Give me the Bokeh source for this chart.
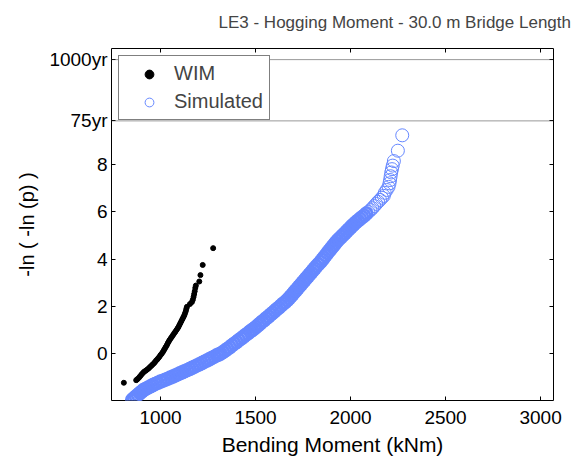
from bokeh.plotting import figure
from bokeh.models import (Range1d, FixedTicker, LinearAxis, Span, Legend, LegendItem,
                          CustomLabelingPolicy)
from bokeh.embed import file_html
from bokeh.resources import INLINE

# ---- data ----
wim_x = [807, 872, 878, 886, 893, 900, 907, 914, 922, 930, 938, 945, 952, 958, 965,
         971, 977, 983, 989, 995, 1001, 1007, 1013, 1018, 1023, 1028, 1033, 1038, 1043,
         1048, 1054, 1060, 1066, 1072, 1078, 1084, 1090, 1095, 1100, 1105, 1110, 1115,
         1120, 1125, 1129, 1133, 1136, 1139, 1155, 1165, 1170, 1174, 1177, 1180, 1183,
         1186, 1204, 1210, 1222, 1277]
wim_y = [-1.23, -1.12, -1.08, -1.02, -0.95, -0.88, -0.82, -0.76, -0.72, -0.67, -0.62,
         -0.56, -0.51, -0.46, -0.41, -0.35, -0.29, -0.24, -0.18, -0.12, -0.05, 0.01,
         0.08, 0.15, 0.22, 0.29, 0.36, 0.44, 0.51, 0.58, 0.65, 0.72, 0.79, 0.86, 0.93,
         1.00, 1.07, 1.14, 1.22, 1.30, 1.38, 1.46, 1.54, 1.62, 1.71, 1.80, 1.90, 1.98,
         2.10, 2.18, 2.28, 2.40, 2.52, 2.64, 2.78, 2.88, 3.05, 3.32, 3.75, 4.46]

sim_x = [851, 861, 871, 881, 891, 901, 912,
         924, 936, 948, 960, 972, 986, 1000,
         1013, 1026, 1039, 1052, 1065, 1078, 1090, 1102, 1115, 1127, 1140,
         1153, 1166, 1179, 1192, 1205, 1218, 1231, 1244, 1257, 1270, 1283, 1296, 1306, 1316,
         1328, 1340, 1352, 1364, 1376, 1388, 1400, 1412, 1424, 1436, 1448, 1460, 1472, 1481, 1491,
         1502, 1513, 1524, 1535, 1546, 1557, 1568, 1579, 1590, 1601, 1612, 1623, 1634, 1645, 1656, 1667,
         1676, 1685, 1694, 1703, 1712, 1721, 1730, 1739, 1748, 1757, 1766, 1775, 1784, 1793, 1802,
         1811, 1820, 1831, 1842,
         1851, 1860, 1869, 1878, 1887, 1896, 1905, 1913, 1921, 1930,
         1940, 1950, 1960, 1970, 1980, 1990, 2000, 2008, 2017,
         2028, 2039, 2050, 2061, 2072, 2083, 2094, 2105,
         2115, 2125, 2135, 2145, 2155, 2165, 2175,
         2180, 2190, 2200, 2205, 2208, 2211, 2214, 2218, 2222, 2228, 2249, 2272]
sim_y = [-1.95, -1.88, -1.81, -1.74, -1.67, -1.60, -1.53,
         -1.48, -1.43, -1.38, -1.33, -1.28, -1.23, -1.18,
         -1.14, -1.10, -1.06, -1.01, -0.97, -0.92, -0.88, -0.83, -0.79, -0.74, -0.70,
         -0.65, -0.60, -0.55, -0.50, -0.45, -0.40, -0.34, -0.29, -0.24, -0.18, -0.13, -0.07, -0.04, 0.00,
         0.06, 0.13, 0.20, 0.27, 0.35, 0.42, 0.49, 0.57, 0.64, 0.71, 0.79, 0.86, 0.94, 0.99, 1.05,
         1.12, 1.20, 1.27, 1.35, 1.42, 1.50, 1.57, 1.65, 1.72, 1.80, 1.88, 1.95, 2.03, 2.11, 2.18, 2.26,
         2.34, 2.42, 2.50, 2.59, 2.67, 2.75, 2.84, 2.92, 3.01, 3.09, 3.18, 3.26, 3.35, 3.43, 3.52,
         3.60, 3.69, 3.78, 3.88,
         3.97, 4.06, 4.15, 4.25, 4.34, 4.43, 4.52, 4.60, 4.68, 4.77,
         4.85, 4.93, 5.01, 5.09, 5.17, 5.25, 5.33, 5.40, 5.47,
         5.55, 5.62, 5.70, 5.77, 5.84, 5.92, 5.99, 6.07,
         6.15, 6.24, 6.33, 6.42, 6.50, 6.59, 6.67,
         6.80, 6.92, 7.05, 7.20, 7.34, 7.50, 7.66, 7.80, 7.95, 8.14, 8.58, 9.23]

return_levels = [9.84, 12.43]
return_labels = ["75yr", "1000yr"]
y_ticks = [0, 2, 4, 6, 8]
x_ticks = [1000, 1500, 2000, 2500, 3000]

FONT = "Liberation Sans"
SIM_COLOR = "#6688ff"

p = figure(width=571, height=458, output_backend="svg", toolbar_location=None,
           x_range=Range1d(742, 3068), y_range=Range1d(-1.98, 12.9),
           min_border_left=111, min_border_right=18, min_border_top=48,
           min_border_bottom=54)

p.background_fill_color = "white"
p.border_fill_color = "white"
p.outline_line_color = "black"
p.outline_line_width = 1
p.xgrid.visible = False
p.ygrid.visible = False

p.title.text = "LE3 - Hogging Moment - 30.0 m Bridge Length"
p.title.text_font = FONT
p.title.text_font_size = "17px"
p.title.text_font_style = "normal"
p.title.align = "left"
p.title.offset = 107

ytick_vals = y_ticks + return_levels
overrides = {v: lab for v, lab in zip(return_levels, return_labels)}

xa = p.xaxis[0]
xa.ticker = FixedTicker(ticks=x_ticks)
xa.axis_label = "Bending Moment (kNm)"
ya = p.yaxis[0]
ya.ticker = FixedTicker(ticks=ytick_vals)
ya.major_label_overrides = overrides
ya.axis_label = "-ln ( -ln (p) )"

for ax in (xa, ya):
    ax.axis_line_color = None
    ax.major_tick_in = 4
    ax.major_tick_out = 0
    ax.minor_tick_in = 0
    ax.minor_tick_out = 0
    ax.major_tick_line_color = "black"
    ax.major_label_text_font = FONT
    ax.major_label_text_font_size = "19px"
    ax.major_label_text_color = "black"
    ax.axis_label_text_font = FONT
    ax.axis_label_text_font_style = "normal"
    ax.axis_label_text_color = "black"
xa.axis_label_text_font_size = "21px"
ya.axis_label_text_font_size = "20px"
xa.major_label_standoff = 10
xa.axis_label_standoff = 6
ya.major_label_standoff = 4
ya.axis_label_standoff = 8

no_labels = CustomLabelingPolicy(code="return []")
top_ax = LinearAxis(ticker=FixedTicker(ticks=x_ticks), major_label_policy=no_labels,
                    major_tick_in=4, major_tick_out=0, minor_tick_in=0, minor_tick_out=0,
                    axis_line_color=None, major_label_standoff=8,
                    major_label_text_font_size="1px")
right_ax = LinearAxis(ticker=FixedTicker(ticks=ytick_vals), major_label_policy=no_labels,
                      major_tick_in=4, major_tick_out=0, minor_tick_in=0, minor_tick_out=0,
                      axis_line_color=None, major_label_standoff=0,
                      major_label_text_font_size="1px")
p.add_layout(top_ax, "above")
p.add_layout(right_ax, "right")

for lv in return_levels:
    p.add_layout(Span(location=lv, dimension="width", line_color="#333333",
                      line_width=1, line_dash="1 1"))

# dense part of the simulated series is drawn with a heavier ring so the band reads solid
dense = [i for i, x in enumerate(sim_x) if x < 2090]
sparse = [i for i, x in enumerate(sim_x) if x >= 2090]
p.scatter([sim_x[i] for i in dense], [sim_y[i] for i in dense], marker="circle", size=12,
          fill_color=None, line_color=SIM_COLOR, line_width=2.5)
r_sim = p.scatter([sim_x[i] for i in sparse], [sim_y[i] for i in sparse], marker="circle",
                  size=13, fill_color=None, line_color=SIM_COLOR, line_width=1)
r_wim = p.scatter(wim_x, wim_y, marker="circle", size=5, fill_color="black",
                  line_color="black")

legend = Legend(items=[LegendItem(label="WIM", renderers=[r_wim]),
                       LegendItem(label="Simulated", renderers=[r_sim])],
                location="top_left", margin=7, padding=6, spacing=5,
                glyph_width=48, glyph_height=22, label_height=22, label_standoff=1,
                label_text_font=FONT, label_text_font_size="20px",
                border_line_color="black", border_line_width=1,
                background_fill_color="white", background_fill_alpha=1.0)
p.add_layout(legend)

open("out.html", "w").write(file_html(p, INLINE))
